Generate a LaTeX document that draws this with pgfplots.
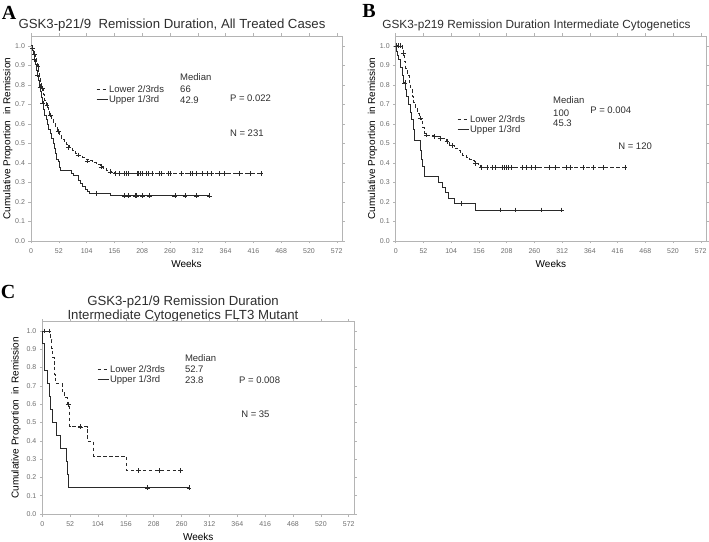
\documentclass[border=0pt]{standalone}
\usepackage{fontspec}
\setmainfont{Liberation Sans}
\newfontfamily\serifbf{Liberation Serif}
\usepackage{pgfplots}
\pgfplotsset{compat=1.18}
\definecolor{curve}{HTML}{2A2A2A}
\definecolor{tickc}{HTML}{6E6E6E}
\definecolor{framec}{HTML}{B4B4B4}
\definecolor{txt}{HTML}{2E2E2E}

\pgfplotsset{km/.style={
  scale only axis, height=205pt, xmin=0, xmax=582, ymin=0, ymax=1.05,
  xtick={0,52,104,156,208,260,312,364,416,468,520,572},
  ytick={0,0.1,0.2,0.3,0.4,0.5,0.6,0.7,0.8,0.9,1.0},
  axis line style={draw=framec, line width=0.6pt},
  tick style={draw=framec, line width=0.5pt}, tick align=outside, tick pos=both,
  major tick length=2.5pt,
  /pgf/number format/assume math mode=true,
  tick label style={font=\fontsize{7}{8}\selectfont, text=tickc},
  yticklabel style={/pgf/number format/.cd, fixed, fixed zerofill, precision=1},
  xticklabel style={yshift=-1.5pt},
  xlabel={Weeks}, ylabel={Cumulative Proportion\ \ in Remission},
  label style={font=\fontsize{9}{10}\selectfont, text=tickc},
  every axis x label/.style={at={(axis description cs:0.5,-0.11)}, anchor=center},
  every axis y label/.style={at={(axis description cs:-0.075,0.5)}, rotate=90, anchor=center},
  legend style={draw=none, fill=none, font=\fontsize{9.5}{10}\selectfont, text=txt, row sep=-0.5pt, inner sep=0pt, nodes={inner sep=1pt}},
  legend cell align=left,
  legend image code/.code={\draw[##1, line width=0.9pt] (0pt,0pt) -- (11pt,0pt);},
  clip=false,
},
low/.style={const plot, draw=curve, line width=0.9pt, dash pattern=on 3.5pt off 2.5pt},
up/.style={const plot, draw=curve, line width=0.9pt},
cens/.style={only marks, mark=+, mark size=2.4pt, color=curve, mark options={solid, line width=0.5pt}, forget plot},
}
\tikzset{ann/.style={anchor=west, font=\fontsize{9.5}{10}\selectfont, text=txt, inner sep=0pt}}

\begin{document}
\begin{tikzpicture}
% ---------------- Panel A ----------------
\node[font=\serifbf\bfseries\fontsize{20}{20}\selectfont, text=black] at (9pt,528pt) {A};
\node[font=\fontsize{13.2}{14}\selectfont, text=txt] at (172pt,516pt) {GSK3-p21/9\ \ Remission Duration, All Treated Cases};
\begin{axis}[km, width=311.1pt, at={(31pt,300pt)}, anchor=south west,
  legend style={at={(axis cs:121.6,0.75)}, anchor=west}]
\addplot[low] coordinates {(0,1)(2,0.985)(4,0.97)(6,0.955)(8,0.935)(10,0.915)(12,0.895)(14,0.87)(16,0.84)(18,0.81)(20,0.78)(23,0.75)(26,0.72)(29,0.695)(32,0.67)(35,0.645)(38,0.62)(42,0.60)(46,0.58)(50,0.56)(53,0.54)(57,0.52)(62,0.505)(66,0.495)(72,0.48)(78,0.465)(84,0.45)(89,0.44)(96,0.43)(103,0.42)(108,0.41)(115,0.40)(122,0.39)(129,0.38)(136,0.37)(142,0.36)(148,0.354)(156,0.345)(430,0.345)};
\addlegendentry{Lower 2/3rds}
\addplot[up] coordinates {(0,1)(2,0.975)(4,0.955)(6,0.93)(8,0.905)(10,0.875)(12,0.85)(14,0.82)(16,0.79)(18,0.765)(20,0.735)(22,0.705)(24,0.675)(26,0.645)(28,0.62)(30,0.595)(33,0.57)(36,0.55)(39,0.525)(42,0.50)(44,0.475)(46,0.45)(48,0.42)(51,0.405)(54,0.375)(56,0.362)(75,0.345)(79,0.335)(89,0.31)(92,0.295)(96,0.28)(101,0.265)(106,0.255)(110,0.245)(149,0.231)(335,0.231)};
\addlegendentry{Upper 1/3rd}
\addplot[cens] coordinates {(3,0.985)(7,0.955)(13,0.895)(21,0.78)(30,0.695)(36,0.645)(51,0.56)(70,0.48)(88,0.44)(106,0.41)(131,0.38)(148,0.354)
(157,0.345)(165,0.345)(174,0.345)(179,0.345)(182,0.345)(198,0.345)(201,0.345)(204,0.345)(209,0.345)(215,0.345)(219,0.345)(226,0.345)(240,0.345)(243,0.345)(257,0.345)(260,0.345)(282,0.345)(297,0.345)(301,0.345)(310,0.345)(321,0.345)(330,0.345)(338,0.345)(352,0.345)(362,0.345)(389,0.345)(410,0.345)(430,0.345)};
\addplot[cens] coordinates {(7,0.93)(12,0.85)(17,0.79)(22,0.705)(123,0.245)(175,0.231)(182,0.231)(195,0.231)(197,0.231)(209,0.231)(221,0.231)(269,0.231)(288,0.231)(309,0.231)(334,0.231)};
\node[ann] at (axis cs:278.8,0.84) {Median};
\node[ann] at (axis cs:278.8,0.779) {66};
\node[ann] at (axis cs:278.8,0.722) {42.9};
\node[ann] at (axis cs:372,0.733) {P = 0.022};
\node[ann] at (axis cs:372,0.553) {N = 231};
\end{axis}

% ---------------- Panel B ----------------
\node[font=\serifbf\bfseries\fontsize{20}{20}\selectfont, text=black] at (369pt,530pt) {B};
\node[font=\fontsize{11.8}{13}\selectfont, text=txt] at (536.5pt,516pt) {GSK3-p219 Remission Duration Intermediate Cytogenetics};
\begin{axis}[km, width=310.4pt, at={(395.7pt,300pt)}, anchor=south west,
  legend style={at={(axis cs:115,0.597)}, anchor=west}]
\addplot[low] coordinates {(0,1)(12,0.98)(14,0.96)(17,0.92)(19,0.885)(22,0.85)(25,0.81)(28,0.775)(31,0.74)(34,0.71)(37,0.68)(40,0.655)(44,0.63)(48,0.61)(51,0.58)(53,0.551)(58,0.543)(70,0.534)(83,0.526)(96,0.509)(100,0.49)(110,0.475)(116,0.465)(121,0.455)(126,0.44)(132,0.43)(138,0.42)(143,0.41)(148,0.397)(155,0.385)(158,0.378)(430,0.378)};
\addlegendentry{Lower 2/3rds}
\addplot[up] coordinates {(0,1)(2,0.97)(4,0.95)(6,0.93)(9,0.89)(12,0.85)(15,0.81)(18,0.775)(21,0.74)(24,0.70)(27,0.66)(30,0.62)(33,0.57)(36,0.517)(46,0.466)(48,0.42)(50,0.38)(54,0.329)(80,0.30)(88,0.275)(93,0.248)(99,0.219)(110,0.193)(150,0.159)(311,0.159)};
\addlegendentry{Upper 1/3rd}
\addplot[cens] coordinates {(4,1)(9,1)(14,0.96)(46,0.63)(58,0.543)(72,0.534)(83,0.526)(96,0.509)(106,0.49)(149,0.397)
(161,0.378)(171,0.378)(181,0.378)(186,0.378)(200,0.378)(204,0.378)(207,0.378)(211,0.378)(217,0.378)(238,0.378)(244,0.378)(255,0.378)(262,0.378)(288,0.378)(299,0.378)(320,0.378)(328,0.378)(351,0.378)(371,0.378)(390,0.378)(430,0.378)};
\addplot[cens] coordinates {(1,1)(17,0.81)(123,0.193)(196,0.159)(224,0.159)(272,0.159)(311,0.159)};
\node[ann] at (axis cs:295,0.722) {Median};
\node[ann] at (axis cs:295,0.656) {100};
\node[ann] at (axis cs:295,0.605) {45.3};
\node[ann] at (axis cs:364.5,0.671) {P = 0.004};
\node[ann] at (axis cs:417,0.487) {N = 120};
\end{axis}

% ---------------- Panel C ----------------
\node[font=\serifbf\bfseries\fontsize{20}{20}\selectfont, text=black] at (8pt,249pt) {C};
\node[font=\fontsize{13.2}{14.3}\selectfont, text=txt, align=center] at (183pt,232pt) {GSK3-p21/9 Remission Duration\\Intermediate Cytogenetics FLT3 Mutant};
\begin{axis}[km, width=311.8pt, height=192.2pt, at={(42.3pt,27pt)}, anchor=south west,
  every axis x label/.style={at={(axis description cs:0.5,-0.118)}, anchor=center},
  every axis y label/.style={at={(axis description cs:-0.084,0.5)}, rotate=90, anchor=center},
  legend style={at={(axis cs:102,0.762)}, anchor=west}]
\addplot[low] coordinates {(0,1)(16,0.952)(17.5,0.905)(19,0.857)(21.8,0.81)(23,0.762)(24.3,0.714)(36.8,0.667)(42,0.635)(46.7,0.60)(51,0.476)(85,0.397)(95.6,0.317)(157,0.238)(261,0.238)};
\addlegendentry{Lower 2/3rds}
\addplot[up] coordinates {(0,1)(0.5,0.929)(4.4,0.786)(9.4,0.714)(12.5,0.643)(15.6,0.571)(18.5,0.5)(25.8,0.429)(33.7,0.357)(44.5,0.286)(47,0.214)(49.6,0.143)(274,0.143)};
\addlegendentry{Upper 1/3rd}
\addplot[cens] coordinates {(4.4,1)(12.5,1)(48.6,0.60)(70.6,0.476)(179,0.238)(217.5,0.238)(258,0.238)};
\addplot[cens] coordinates {(196,0.143)(274,0.143)};
\node[ann] at (axis cs:266,0.852) {Median};
\node[ann] at (axis cs:266,0.792) {52.7};
\node[ann] at (axis cs:266,0.732) {23.8};
\node[ann] at (axis cs:367,0.732) {P = 0.008};
\node[ann] at (axis cs:371,0.546) {N = 35};
\end{axis}
\pgfresetboundingbox
\path[use as bounding box] (0pt,0pt) rectangle (709pt,541pt);
\end{tikzpicture}
\end{document}
